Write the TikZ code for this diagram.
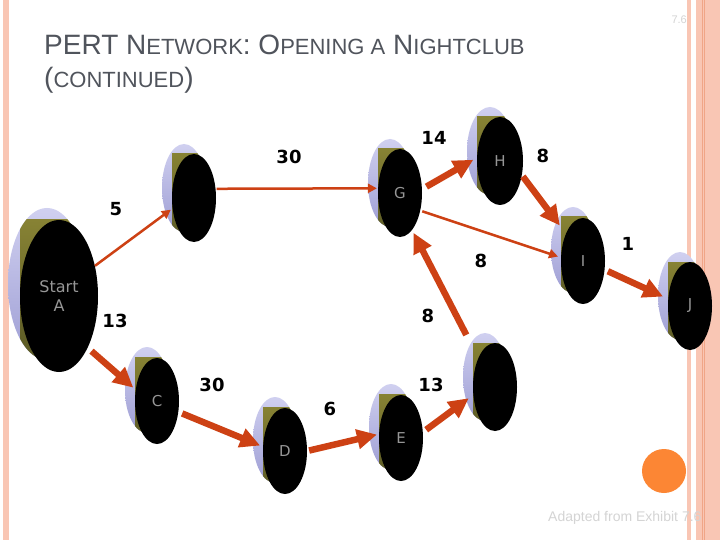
\documentclass[tikz,border=0pt]{standalone}
\usepackage{fontspec}
\setmainfont{Liberation Sans}
\newfontfamily\vfont{DejaVu Sans}
\usetikzlibrary{shapes.geometric,arrows.meta}
\definecolor{arr}{RGB}{205,65,20}
\definecolor{lavtop}{RGB}{208,208,240}
\definecolor{lavbot}{RGB}{158,158,212}
\definecolor{olivetop}{RGB}{135,130,52}
\definecolor{olivebot}{RGB}{80,80,34}
\definecolor{lblgray}{RGB}{150,150,150}
\definecolor{titlegray}{RGB}{80,84,92}
\definecolor{faint}{RGB}{212,212,212}
\definecolor{salmon}{RGB}{249,198,180}
\definecolor{salmondk}{RGB}{240,165,135}
\definecolor{orangedot}{RGB}{252,134,52}
\newcommand\pertbg[5]{%
  \shade[top color=lavtop,bottom color=lavbot] (#1-#5,#2-#5) ellipse [x radius=#3,y radius=#4];
  \begin{scope}
    \clip (#1-#5,#2-#5) ellipse [x radius=#3,y radius=#4];
    \shade[top color=olivetop,bottom color=olivebot] (#1-#3,#2-#4) rectangle (#1+#3,#2+#4+20);
  \end{scope}}
\newcommand\smc[1]{{\fontsize{22}{24}\selectfont #1}}
\tikzset{
  pnode/.style={ellipse,fill=black,inner sep=0pt,text=lblgray,font=\vfont\fontsize{15}{17}\selectfont,
    minimum width=44pt,minimum height=88pt},
  dur/.style={font=\vfont\bfseries\fontsize{18}{20}\selectfont,text=black,inner sep=0pt},
  thickarr/.style={draw=arr,line width=6.5pt,-{Triangle[length=20pt,width=19pt]}},
  thinarr/.style={draw=arr,line width=2.5pt,-{Triangle[length=9pt,width=9pt]}}
}
\begin{document}
\begin{tikzpicture}[x=1pt,y=-1pt]
\useasboundingbox (0,0) rectangle (720,540);
\fill[white] (0,0) rectangle (720,540);
% page borders
\fill[salmon] (3,0) rectangle (9,540);
\fill[salmon] (687,0) rectangle (691,540);
\fill[salmon] (696,0) rectangle (720,540);
\fill[salmondk] (701.5,0) rectangle (702.7,540);
\fill[salmondk] (704.3,0) rectangle (705.3,540);
% title
\node[anchor=base west,inner sep=0pt,text=titlegray,font=\fontsize{28}{30}\selectfont] (t1) at (44,55)
  {PERT N\smc{ETWORK}: O\smc{PENING A} N\smc{IGHTCLUB}};
\node[anchor=base west,inner sep=0pt,text=titlegray,font=\fontsize{28}{30}\selectfont] (t2) at (44,88)
  {(\smc{CONTINUED})};
\node[anchor=base east,inner sep=0pt,text=faint,font=\fontsize{11}{12}\selectfont] (pg) at (687,24) {7.6};
% node backgrounds
\pertbg{59}{296}{39}{76}{12}
\pertbg{194}{198}{22}{44}{10}
\pertbg{400}{193}{22}{44}{10}
\pertbg{500}{161}{23}{44}{10}
\pertbg{583}{260}{22}{43}{10}
\pertbg{690}{306}{22}{44}{10}
\pertbg{157}{400}{22}{43}{10}
\pertbg{285}{450}{22}{43}{10}
\pertbg{401}{437}{22}{43}{10}
\pertbg{495}{387}{22}{44}{10}
% front faces
\node[pnode,minimum width=78pt,minimum height=152pt,align=center,font=\vfont\fontsize{16}{19}\selectfont] (A) at (59,296) {Start\\A};
\node[pnode] (B) at (194,198) {};
\node[pnode] (G) at (400,193) {G};
\node[pnode,minimum width=46pt] (H) at (500,161) {H};
\node[pnode,minimum height=86pt] (I) at (583,261) {I};
\node[pnode] (J) at (690,306) {J};
\node[pnode,minimum height=86pt] (C) at (157,401) {C};
\node[pnode,minimum height=86pt] (D) at (285,451) {D};
\node[pnode,minimum height=86pt] (E) at (401,438) {E};
\node[pnode] (F) at (495,387) {};
% connectors
\draw[thinarr,shorten >=2pt] (A.40) -- (B.206);
\draw[thinarr,shorten <=1pt,shorten >=1pt] (B.23) -- (G.168);
\draw[thickarr,shorten <=5pt,shorten >=4pt] (G.10) -- (H.172);
\draw[thinarr,shorten <=2pt,shorten >=3pt] (G.-41) -- (I.171);
\draw[thickarr,shorten <=1.5pt,shorten >=10pt] (H.-33) -- (I.122);
\draw[thickarr,shorten <=3.5pt,shorten >=5.5pt] (I.-22) -- (J.162);
\draw[thickarr,shorten <=5pt,shorten >=3pt] (A.-61) -- (C.152);
\draw[thickarr,shorten <=4pt,shorten >=3pt] (C.-27) -- (D.169);
\draw[thickarr,shorten <=2pt,shorten >=2pt] (D.0) -- (E.170);
\draw[thickarr,shorten <=4pt,shorten >=5.5pt] (E.15) -- (F.200);
\draw[thickarr,shorten <=26pt,shorten >=3pt] (F.120) -- (G.-72);
% durations
\node[dur] (d1) at (289,157) {30};
\node[dur] (d2) at (434,138) {14};
\node[dur] (d3) at (543,156) {8};
\node[dur] (d4) at (116,209) {5};
\node[dur] (d5) at (481,261) {8};
\node[dur] (d6) at (628,244) {1};
\node[dur] (d7) at (115,321) {13};
\node[dur] (d8) at (428,316) {8};
\node[dur] (d9) at (212,385) {30};
\node[dur] (d10) at (330,409) {6};
\node[dur] (d11) at (431,385) {13};
% decorations
\fill[orangedot] (664,471) circle [radius=22];
\node[anchor=base west,inner sep=0pt,text=faint,font=\fontsize{14}{16}\selectfont] (src) at (548,521) {Adapted from Exhibit 7.6};
\end{tikzpicture}
\end{document}
